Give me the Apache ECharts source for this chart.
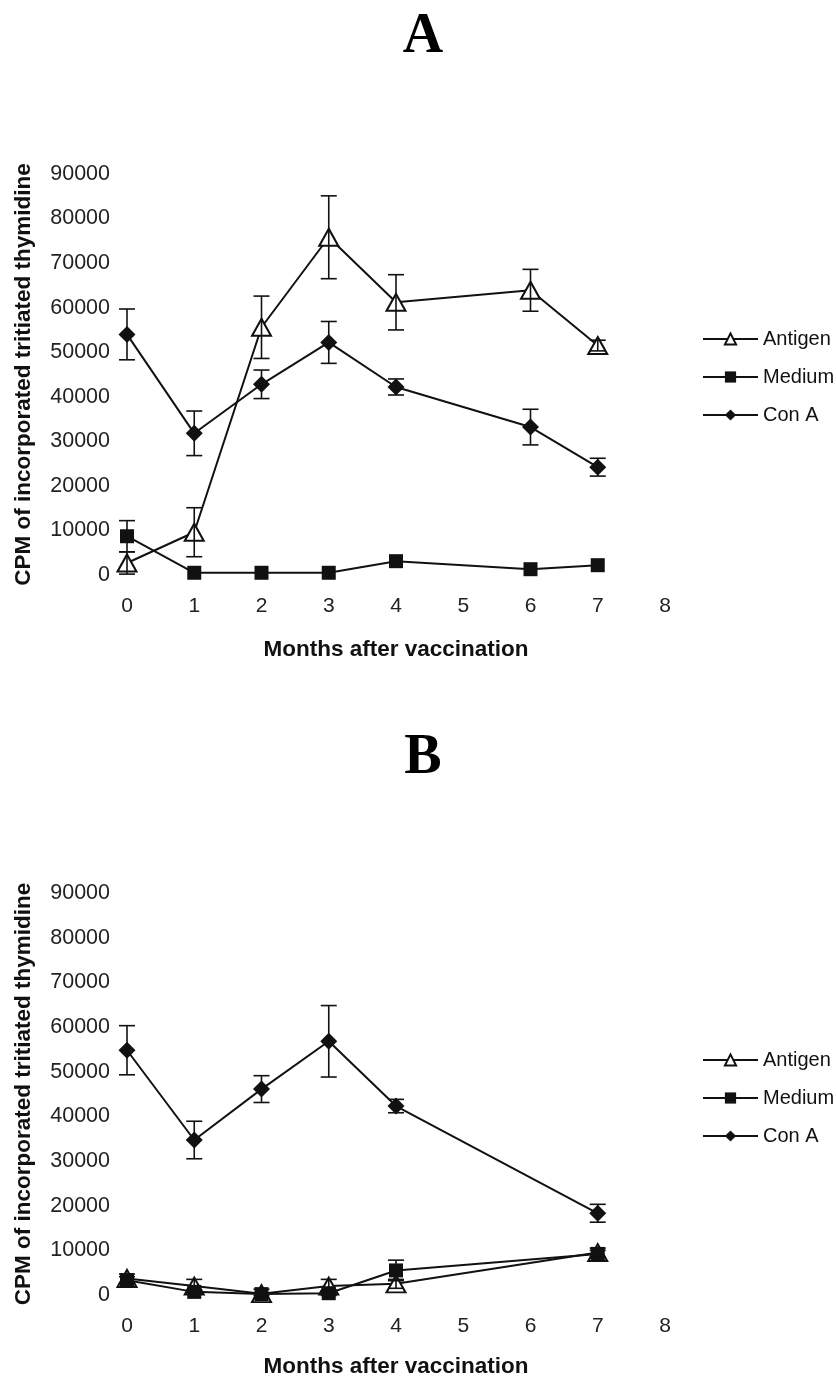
<!DOCTYPE html>
<html>
<head>
<meta charset="utf-8">
<script src="https://cdn.jsdelivr.net/npm/echarts@6/dist/echarts.min.js"></script>
<style>
html,body{margin:0;padding:0;background:#fff;}
#chart{width:836px;height:1379px;}
</style>
</head>
<body>
<div id="chart"></div>
<script>
// ---- Data ----
const xTicks = [0, 1, 2, 3, 4, 5, 6, 7, 8];
const yTicks = [0, 10000, 20000, 30000, 40000, 50000, 60000, 70000, 80000, 90000];

// Panel A
const monthsA = [0, 1, 2, 3, 4, 6, 7];
const antigenA = [2700, 9600, 55600, 75800, 61200, 63900, 51500];
const antigenAErr = [2500, 5500, 7000, 9300, 6200, 4700, 1200];
const mediumA = [8700, 500, 500, 500, 3100, 1300, 2200];
const mediumAErr = [3500, 0, 0, 0, 0, 0, 0];
const conAA = [54000, 31800, 42800, 52200, 42200, 33200, 24200];
const conAAErr = [5700, 5000, 3200, 4700, 1800, 4000, 2000];

// Panel B
const monthsB = [0, 1, 2, 3, 4, 7];
const antigenB = [3700, 2000, 300, 2000, 2500, 9500];
const antigenBErr = [1000, 1500, 1000, 1500, 1000, 1000];
const mediumB = [3300, 700, 200, 400, 5500, 9200];
const mediumBErr = [800, 500, 300, 500, 2300, 800];
const conAB = [54800, 34700, 46100, 56800, 42300, 18300];
const conABErr = [5500, 4200, 3000, 8000, 1500, 2000];

const seriesNames = ['Antigen', 'Medium', 'Con A'];
const panelTitles = ['A', 'B'];
const xName = 'Months after vaccination';
const yName = 'CPM of incorporated tritiated thymidine';

// ---- Helpers ----
const INK = '#111';
const SANS = 'Liberation Sans, Arial';
function pairs(xs, ys) { return xs.map((x, i) => [x, ys[i]]); }
function errData(xs, ys, es) { return xs.map((x, i) => [x, ys[i] - es[i], ys[i] + es[i]]); }

function errSeries(idx, xs, ys, es) {
  return {
    type: 'custom', xAxisIndex: idx, yAxisIndex: idx, z: 5, silent: true,
    encode: { x: 0, y: [1, 2] },
    data: errData(xs, ys, es).filter(d => d[2] - d[1] > 0),
    renderItem: function (params, api) {
      const x = api.value(0);
      const lo = api.coord([x, api.value(1)]);
      const hi = api.coord([x, api.value(2)]);
      const hw = 8;
      const st = { stroke: INK, lineWidth: 1.6 };
      return {
        type: 'group',
        children: [
          { type: 'line', shape: { x1: lo[0], y1: lo[1], x2: hi[0], y2: hi[1] }, style: st },
          { type: 'line', shape: { x1: lo[0] - hw, y1: lo[1], x2: lo[0] + hw, y2: lo[1] }, style: st },
          { type: 'line', shape: { x1: hi[0] - hw, y1: hi[1], x2: hi[0] + hw, y2: hi[1] }, style: st }
        ]
      };
    }
  };
}

function lineSeries(idx, name, xs, ys, symbol, size, fill) {
  return {
    type: 'line', name: name, xAxisIndex: idx, yAxisIndex: idx, z: 3,
    data: pairs(xs, ys),
    symbol: symbol, symbolSize: size, showAllSymbol: true,
    lineStyle: { color: INK, width: 2 },
    itemStyle: { color: fill, borderColor: INK, borderWidth: fill === '#fff' ? 2 : 0 },
    emphasis: { disabled: true }, animation: false
  };
}

const grids = [
  { left: 127, right: 171, top: 174, height: 401 },
  { left: 127, right: 171, top: 893, height: 403 }
];

function xAxis(idx) {
  return {
    type: 'value', gridIndex: idx, min: xTicks[0], max: xTicks[xTicks.length - 1], interval: 1,
    axisLine: { show: false }, axisTick: { show: false }, splitLine: { show: false },
    axisLabel: { color: '#222', fontSize: 21, fontFamily: SANS, margin: 21,
      formatter: v => String(v) },
    name: xName, nameLocation: 'middle', nameGap: idx === 0 ? 63 : 60,
    nameTextStyle: { color: '#111', fontSize: 22.5, fontWeight: 'bold', fontFamily: SANS }
  };
}
function yAxis(idx) {
  return {
    type: 'value', gridIndex: idx, min: yTicks[0], max: yTicks[yTicks.length - 1], interval: 10000,
    axisLine: { show: false }, axisTick: { show: false }, splitLine: { show: false },
    axisLabel: { color: '#222', fontSize: 21.5, fontFamily: SANS, margin: 17,
      formatter: v => String(v) },
    name: yName, nameLocation: 'middle', nameGap: 92, nameRotate: 90,
    nameTextStyle: { color: '#111', fontSize: 22.5, fontWeight: 'bold', fontFamily: SANS }
  };
}
function legend(top) {
  return {
    data: seriesNames, left: 702, top: top, orient: 'vertical', padding: 0,
    itemWidth: 55, itemHeight: 14, itemGap: 18, selectedMode: false,
    textStyle: { color: '#111', fontSize: 20, fontFamily: SANS, lineHeight: 20 }
  };
}

const option = {
  backgroundColor: '#fff',
  animation: false,
  title: [
    { text: panelTitles[0], left: 418, top: 5, textAlign: 'center',
      textStyle: { fontFamily: 'Liberation Serif, Times New Roman', fontWeight: 'bold', fontSize: 56, color: '#000' } },
    { text: panelTitles[1], left: 418, top: 726, textAlign: 'center',
      textStyle: { fontFamily: 'Liberation Serif, Times New Roman', fontWeight: 'bold', fontSize: 56, color: '#000' } }
  ],
  legend: [legend(329), legend(1050)],
  grid: grids,
  xAxis: [xAxis(0), xAxis(1)],
  yAxis: [yAxis(0), yAxis(1)],
  series: [
    lineSeries(0, seriesNames[2], monthsA, conAA, 'diamond', 17, INK),
    lineSeries(0, seriesNames[0], monthsA, antigenA, 'triangle', [19, 17], '#fff'),
    lineSeries(0, seriesNames[1], monthsA, mediumA, 'rect', 14, INK),
    errSeries(0, monthsA, conAA, conAAErr),
    errSeries(0, monthsA, antigenA, antigenAErr),
    errSeries(0, monthsA, mediumA, mediumAErr),

    lineSeries(1, seriesNames[2], monthsB, conAB, 'diamond', 17, INK),
    lineSeries(1, seriesNames[0], monthsB, antigenB, 'triangle', [19, 17], '#fff'),
    lineSeries(1, seriesNames[1], monthsB, mediumB, 'rect', 14, INK),
    errSeries(1, monthsB, conAB, conABErr),
    errSeries(1, monthsB, antigenB, antigenBErr),
    errSeries(1, monthsB, mediumB, mediumBErr)
  ]
};

const chart = echarts.init(document.getElementById('chart'), null, { renderer: 'canvas' });
chart.setOption(option);
</script>
</body>
</html>
